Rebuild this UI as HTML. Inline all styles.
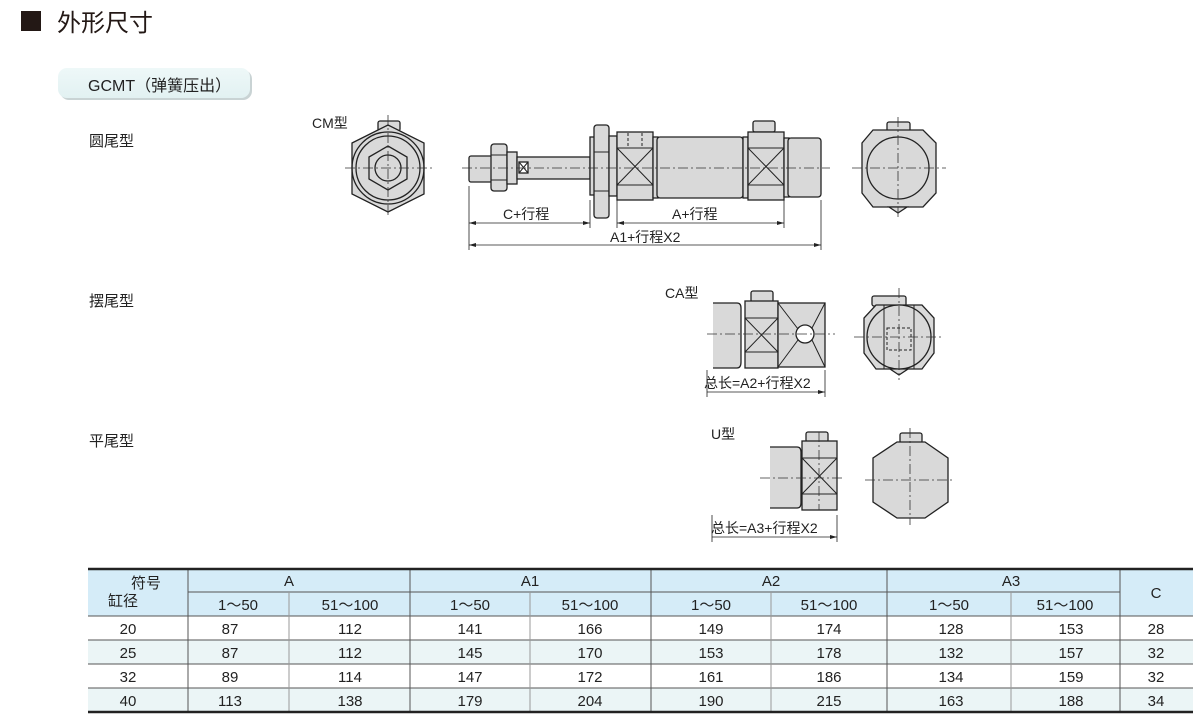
<!DOCTYPE html>
<html><head><meta charset="utf-8"><style>
html,body{margin:0;padding:0;background:#fff;}
svg{display:block;font-family:"Liberation Sans","Noto Sans CJK SC",sans-serif;}
</style></head><body>
<svg width="1200" height="722" viewBox="0 0 1200 722" xmlns="http://www.w3.org/2000/svg">
<defs>
<linearGradient id="tab" x1="0" y1="0" x2="0" y2="1"><stop offset="0" stop-color="#eef8f8"/><stop offset="1" stop-color="#e2f1f2"/></linearGradient>
</defs>
<rect x="21" y="11" width="20" height="20" fill="#231815"/>
<text x="57" y="31" font-size="24" fill="#231815">外形尺寸</text>
<rect x="60" y="70" width="192" height="30" rx="9" fill="#c9d3d4"/>
<rect x="58" y="68" width="192" height="30" rx="9" fill="url(#tab)"/>
<text x="88" y="91" font-size="16" fill="#222">GCMT（弹簧压出）</text>
<text x="89" y="146" font-size="15" fill="#222">圆尾型</text>
<text x="89" y="306" font-size="15" fill="#222">摆尾型</text>
<text x="89" y="446" font-size="15" fill="#222">平尾型</text>
<text x="312" y="128" font-size="14" fill="#222">CM型</text>
<text x="665" y="298" font-size="14" fill="#222">CA型</text>
<text x="711" y="439" font-size="14" fill="#222">U型</text>

<g stroke="#222" stroke-width="1.3" fill="#d9d9d9">
<rect x="378" y="121" width="22" height="10" rx="2"/>
<polygon points="352,143 388,125 424,143 424,194 388,212 352,194"/>
<circle cx="388" cy="168" r="36" fill="none"/>
<circle cx="388" cy="168" r="32"/>
<polygon points="369,157 388,146 407,157 407,179 388,190 369,179"/>
<circle cx="388" cy="168" r="13"/>
<rect x="469" y="156" width="23" height="26" rx="2"/>
<rect x="491" y="144" width="16" height="47" rx="3"/>
<rect x="507" y="152" width="10" height="32"/>
<rect x="517" y="157" width="73" height="22"/>
<rect x="519" y="162" width="9" height="11" fill="#fff"/>
<rect x="590" y="137" width="5" height="58"/>
<rect x="594" y="125" width="15" height="93" rx="3"/>
<rect x="609" y="136" width="8" height="60"/>
<rect x="617" y="132" width="36" height="68"/>
<rect x="653" y="137" width="5" height="61"/>
<rect x="657" y="137" width="86" height="61" rx="3"/>
<rect x="743" y="137" width="5" height="61"/>
<rect x="753" y="121" width="22" height="11" rx="2"/>
<rect x="748" y="132" width="36" height="68"/>
<rect x="784" y="138" width="5" height="59"/>
<rect x="788" y="138" width="33" height="59" rx="3"/>
<rect x="887" y="122" width="23" height="10" rx="2"/>
<polygon points="862,143 862,193 873,207 923,207 936,193 936,143 923,130 873,130"/>
<polygon points="889,207 898,213 907,207"/>
<circle cx="898" cy="168" r="31"/>
<path d="M713,303 H737 Q741,303 741,308 V362 Q741,368 737,368 H713" />
<rect x="751" y="291" width="22" height="11" rx="2"/>
<rect x="745" y="301" width="33" height="67"/>
<rect x="778" y="303" width="47" height="64"/>
<circle cx="805" cy="334" r="9" fill="#fff"/>
<rect x="872" y="296" width="34" height="10" rx="2"/>
<polygon points="864,318 864,353 876,369 922,369 934,353 934,318 922,305 876,305"/>
<polygon points="890,369 899,375 908,369"/>
<circle cx="899" cy="337" r="32"/>
<path d="M770,447 H797 Q801,447 801,452 V503 Q801,508 797,508 H770"/>
<rect x="806" y="432" width="22" height="10" rx="2"/>
<rect x="802" y="441" width="35" height="69"/>
<rect x="900" y="433" width="22" height="10" rx="2"/>
<polygon points="873,458 873,502 897,518 925,518 948,502 948,458 925,442 897,442"/>
</g>
<g stroke="#222" stroke-width="1" fill="none">
<path d="M617,148 H653 M617,185 H653 M617,148 L653,185 M653,148 L617,185"/>
<path d="M748,148 H784 M748,185 H784 M748,148 L784,185 M784,148 L748,185"/>
<path d="M519,162 L528,173 M528,162 L519,173"/>
<path d="M745,318 H778 M745,352 H778 M745,318 L778,352 M778,318 L745,352"/>
<path d="M778,303 L798,329 M812,340 L825,367 M825,303 L812,328 M798,340 L778,367"/>
<path d="M802,458 H837 M802,494 H837 M802,458 L837,494 M837,458 L802,494"/>
<path d="M884,305 V369 M914,305 V369" />
<path d="M887,328 H911 V350 H887 Z" stroke-dasharray="3,2"/>
<path d="M628,133 V148 M642,133 V148" stroke-dasharray="3,2"/>
<path d="M594,152 H609 M594,191 H609 M491,155 H507 M491,180 H507"/>
</g>
<g stroke="#333" stroke-width="0.8" fill="none" stroke-dasharray="10,3,2,3">
<path d="M345,168 H432 M388,115 V218"/>
<path d="M462,168 H830"/>
<path d="M852,168 H946 M898,117 V218"/>
<path d="M707,334 H835 M854,337 H944 M899,288 V380"/>
<path d="M760,478 H845 M865,480 H955 M910,428 V525 M819,432 V510"/>
</g>
<g stroke="#222" stroke-width="0.8" fill="#222">
<path d="M469,186 V250 M590,200 V228 M617,200 V228 M784,200 V228 M821,200 V250" fill="none"/>
<path d="M469,223 H590 M617,223 H784 M469,245 H821" fill="none"/>
<path d="M707,370 V397 M825,370 V397 M707,392 H825" fill="none"/>
<path d="M712,515 V542 M837,515 V542 M712,537 H837" fill="none"/>
<polygon points="469,223 476,221 476,225" stroke="none"/>
<polygon points="590,223 583,221 583,225" stroke="none"/>
<polygon points="617,223 624,221 624,225" stroke="none"/>
<polygon points="784,223 777,221 777,225" stroke="none"/>
<polygon points="469,245 476,243 476,247" stroke="none"/>
<polygon points="821,245 814,243 814,247" stroke="none"/>
<polygon points="825,392 818,390 818,394" stroke="none"/>
<polygon points="837,537 830,535 830,539" stroke="none"/>
</g>
<g font-size="14" fill="#222">
<text x="503" y="219">C+行程</text>
<text x="672" y="219">A+行程</text>
<text x="610" y="242">A1+行程X2</text>
<text x="704" y="388">总长=A2+行程X2</text>
<text x="711" y="533">总长=A3+行程X2</text>
</g>

<rect x="88" y="569" width="1105" height="47" fill="#d5ecf8"/>
<rect x="88" y="640" width="1105" height="24" fill="#ebf5f6"/>
<rect x="88" y="688" width="1105" height="24" fill="#ebf5f6"/>
<g stroke="#555" stroke-width="1">
<path d="M88,616 H1193 M88,640 H1193 M88,664 H1193 M88,688 H1193"/>
<path d="M188,592 H1120"/>
<path d="M188,569 V712 M410,569 V712 M651,569 V712 M887,569 V712 M1120,569 V712"/>
<path d="M289,592 V712 M530,592 V712 M771,592 V712 M1011,592 V712" stroke="#999"/>
</g>
<path d="M88,569 H1193 M88,712 H1193" stroke="#222" stroke-width="2.5"/>
<g font-size="15" fill="#222" text-anchor="middle">
<text x="146" y="588">符号</text>
<text x="108" y="606" text-anchor="start">缸径</text>
<text x="289" y="586">A</text><text x="530" y="586">A1</text><text x="771" y="586">A2</text><text x="1011" y="586">A3</text>
<text x="1156" y="598">C</text>
<text x="238" y="610">1～50</text><text x="350" y="610">51～100</text>
<text x="470" y="610">1～50</text><text x="590" y="610">51～100</text>
<text x="711" y="610">1～50</text><text x="829" y="610">51～100</text>
<text x="949" y="610">1～50</text><text x="1065" y="610">51～100</text>
<text x="128" y="634">20</text><text x="230" y="634">87</text><text x="350" y="634">112</text><text x="470" y="634">141</text><text x="590" y="634">166</text><text x="711" y="634">149</text><text x="829" y="634">174</text><text x="951" y="634">128</text><text x="1071" y="634">153</text><text x="1156" y="634">28</text>
<text x="128" y="658">25</text><text x="230" y="658">87</text><text x="350" y="658">112</text><text x="470" y="658">145</text><text x="590" y="658">170</text><text x="711" y="658">153</text><text x="829" y="658">178</text><text x="951" y="658">132</text><text x="1071" y="658">157</text><text x="1156" y="658">32</text>
<text x="128" y="682">32</text><text x="230" y="682">89</text><text x="350" y="682">114</text><text x="470" y="682">147</text><text x="590" y="682">172</text><text x="711" y="682">161</text><text x="829" y="682">186</text><text x="951" y="682">134</text><text x="1071" y="682">159</text><text x="1156" y="682">32</text>
<text x="128" y="706">40</text><text x="230" y="706">113</text><text x="350" y="706">138</text><text x="470" y="706">179</text><text x="590" y="706">204</text><text x="711" y="706">190</text><text x="829" y="706">215</text><text x="951" y="706">163</text><text x="1071" y="706">188</text><text x="1156" y="706">34</text>
</g>
</svg>
</body></html>
